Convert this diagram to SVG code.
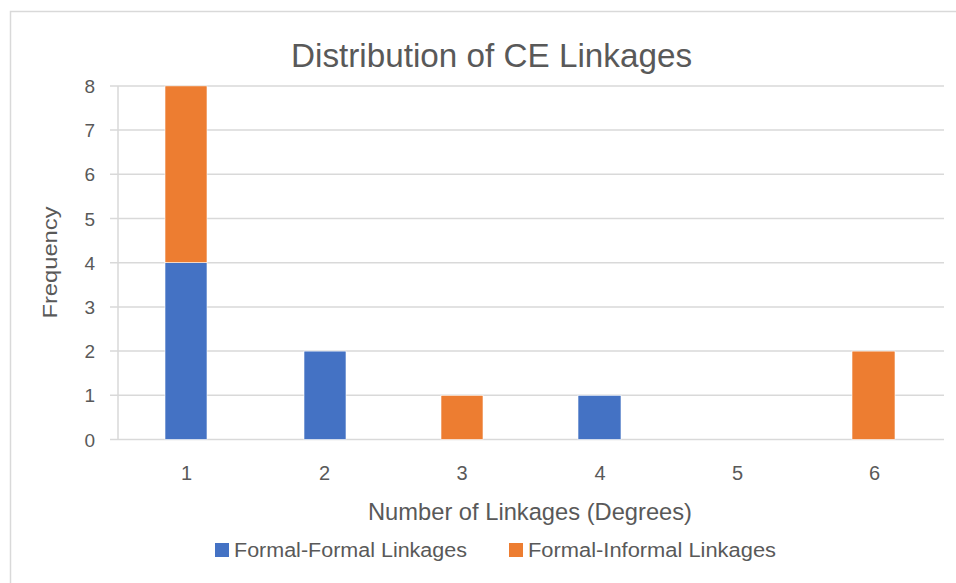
<svg xmlns="http://www.w3.org/2000/svg" width="956" height="583" viewBox="0 0 956 583">
<style>
text{font-family:"Liberation Sans",Arial,sans-serif;fill:#595959}
.grid{stroke:#D9D9D9;stroke-width:1.5;fill:none}
.tick{font-size:19px;text-anchor:end}
.xl{font-size:20px;text-anchor:middle}
.blue{fill:#4472C4;stroke:#ffffff;stroke-width:0.6}
.orange{fill:#ED7D31;stroke:#ffffff;stroke-width:0.6}
</style>
<rect x="0" y="0" width="956" height="583" fill="#ffffff"/>
<rect x="10.5" y="11.5" width="960" height="590" fill="#ffffff" stroke="#D9D9D9" stroke-width="1.5"/>
<text x="491.5" y="67" font-size="33" text-anchor="middle" textLength="401" lengthAdjust="spacingAndGlyphs">Distribution of CE Linkages</text>
<g id="gridlines">
<line class="grid" x1="110" y1="439.5" x2="944" y2="439.5"/>
<line class="grid" x1="110" y1="395.3" x2="944" y2="395.3"/>
<line class="grid" x1="110" y1="351.1" x2="944" y2="351.1"/>
<line class="grid" x1="110" y1="306.9" x2="944" y2="306.9"/>
<line class="grid" x1="110" y1="262.7" x2="944" y2="262.7"/>
<line class="grid" x1="110" y1="218.5" x2="944" y2="218.5"/>
<line class="grid" x1="110" y1="174.3" x2="944" y2="174.3"/>
<line class="grid" x1="110" y1="130.1" x2="944" y2="130.1"/>
<line class="grid" x1="110" y1="85.9" x2="944" y2="85.9"/>
<line class="grid" x1="118" y1="85.9" x2="118" y2="439.5"/>
</g>
<g id="y-labels">
<text class="tick" x="95" y="446.5">0</text>
<text class="tick" x="95" y="402.3">1</text>
<text class="tick" x="95" y="358.1">2</text>
<text class="tick" x="95" y="313.9">3</text>
<text class="tick" x="95" y="269.7">4</text>
<text class="tick" x="95" y="225.5">5</text>
<text class="tick" x="95" y="181.3">6</text>
<text class="tick" x="95" y="137.1">7</text>
<text class="tick" x="95" y="92.9">8</text>
</g>
<g id="bars">
<rect class="blue" x="165" y="262.7" width="42" height="176.8"/>
<rect class="orange" x="165" y="85.9" width="42" height="176.8"/>
<rect class="blue" x="304" y="351.1" width="42" height="88.4"/>
<rect class="orange" x="441" y="395.3" width="42" height="44.2"/>
<rect class="blue" x="578" y="395.3" width="43" height="44.2"/>
<rect class="orange" x="852" y="351.1" width="43" height="88.4"/>
</g>
<g id="x-labels">
<text class="xl" x="186.5" y="479.5">1</text>
<text class="xl" x="324.5" y="479.5">2</text>
<text class="xl" x="462" y="479.5">3</text>
<text class="xl" x="600" y="479.5">4</text>
<text class="xl" x="737.5" y="479.5">5</text>
<text class="xl" x="874.5" y="479.5">6</text>
</g>
<text x="530" y="520" font-size="24.5" text-anchor="middle" textLength="324" lengthAdjust="spacingAndGlyphs">Number of Linkages (Degrees)</text>
<text transform="translate(57,262.5) rotate(-90)" font-size="21" text-anchor="middle" textLength="112" lengthAdjust="spacingAndGlyphs">Frequency</text>
<g id="legend">
<rect x="215" y="543" width="14" height="14" fill="#4472C4"/>
<text x="234" y="556.5" font-size="19.5" textLength="233" lengthAdjust="spacingAndGlyphs">Formal-Formal Linkages</text>
<rect x="509" y="543" width="14" height="14" fill="#ED7D31"/>
<text x="528" y="556.5" font-size="19.5" textLength="248" lengthAdjust="spacingAndGlyphs">Formal-Informal Linkages</text>
</g>
</svg>
